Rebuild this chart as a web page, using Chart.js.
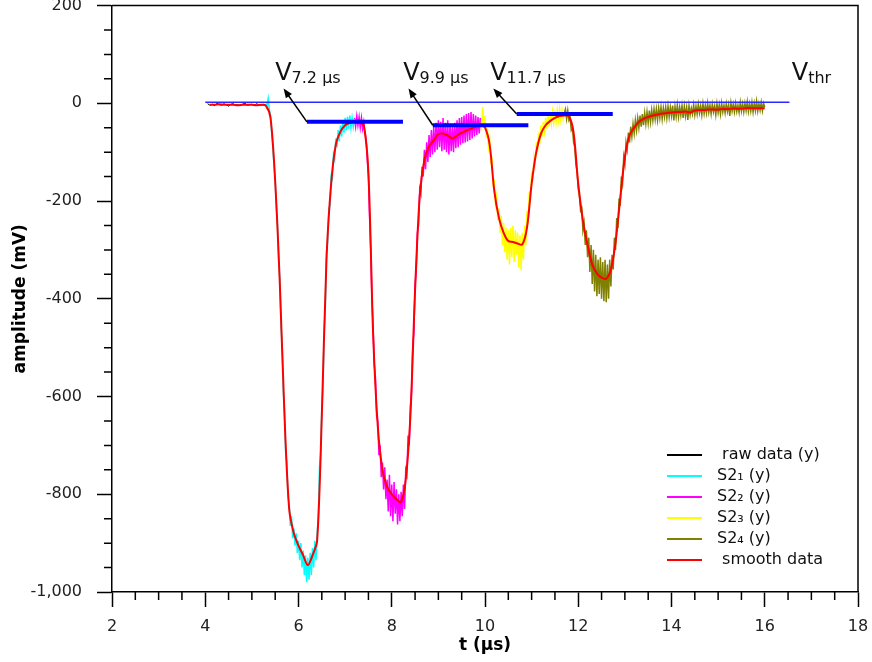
<!DOCTYPE html>
<html>
<head>
<meta charset="utf-8">
<script src="https://cdn.jsdelivr.net/npm/chart.js@4.4.1/dist/chart.umd.min.js"></script>
<style>
  html, body { margin: 0; padding: 0; background: #fff; }
  #wrap { width: 872px; height: 662px; }
</style>
</head>
<body>
<div id="wrap"><canvas id="chart"></canvas></div>
<script>
// sampling step of the S2 traces (µs), 8 samples per row = 0.2 µs
const DT = 0.025;

// raw data (baseline before the first pulse), 0.05 µs step
const RAW_T0 = 4.05;
const RAW_DT = 0.05;
const rawData = [-1, -4, -2, -5, 0, -3, -4, -1, -3, -6, -2, -1, -4, -3, -5, -2, 0, -4, -3, -2, -5, -1, -3, -4, -2, -3];

// S2 pulse 1
const S2_1_T0 = 5.30;
const s2First = [
  -1, -5, 10, -12, -28, -60, -90, -128,
  -155, -215, -250, -325, -360, -455, -495, -590,
  -630, -715, -735, -805, -820, -865, -845, -890,
  -870, -905, -880, -920, -895, -935, -900, -950,
  -915, -965, -925, -980, -930, -975, -920, -965,
  -910, -950, -895, -935, -880, -850, -745, -720,
  -625, -580, -465, -420, -305, -285, -215, -210,
  -150, -155, -105, -115, -72, -90, -55, -78,
  -45, -68, -35, -60, -30, -55, -28, -52,
  -25, -50, -30, -48, -32];

// S2 pulse 2
const S2_2_T0 = 7.20;
const s2Second = [
  -30, -48, -26, -45, -28, -50, -30, -52,
  -38, -60, -75, -115, -150, -235, -300, -400,
  -460, -535, -560, -640, -650, -720, -700, -765,
  -735, -790, -745, -810, -770, -835, -760, -845,
  -780, -855, -775, -840, -790, -862, -800, -855,
  -795, -845, -780, -830, -750, -760, -680, -700,
  -620, -590, -495, -470, -370, -345, -265, -250,
  -175, -185, -130, -150, -95, -135, -80, -120,
  -65, -110, -55, -105, -48, -100, -40, -95,
  -35, -90, -38, -98, -30, -95, -40, -100,
  -35, -105, -42, -98, -45, -100, -40, -92,
  -35, -90, -30, -85, -28, -82, -25, -80,
  -22, -78, -20, -75, -18, -72, -22, -68,
  -25, -65, -28, -62, -30];

// S2 pulse 3
const S2_3_T0 = 9.90;
const s2Third = [
  -30, -55, -8, -50, -25, -70, -50, -90,
  -75, -120, -115, -165, -160, -205, -190, -240,
  -215, -265, -230, -290, -245, -305, -255, -320,
  -260, -330, -255, -315, -250, -325, -260, -310,
  -265, -335, -270, -342, -265, -320, -250, -290,
  -220, -245, -180, -200, -140, -160, -110, -125,
  -80, -100, -60, -82, -45, -68, -38, -58,
  -30, -52, -25, -48, -20, -42, -18, -40,
  -15, -38, -14, -35, -12, -34, -14, -32,
  -18];

// S2 pulse 4 and tail
const S2_4_T0 = 11.70;
const s2Fourth = [
  -20, -12, -32, -15, -35, -30, -55, -50,
  -80, -90, -125, -140, -175, -190, -220, -215,
  -260, -245, -290, -260, -315, -275, -345, -290,
  -370, -300, -385, -310, -395, -320, -390, -315,
  -400, -325, -405, -320, -407, -330, -400, -320,
  -375, -310, -340, -275, -300, -235, -255, -195,
  -210, -150, -165, -110, -125, -80, -95, -60,
  -80, -48, -68, -42, -62, -35, -55, -30,
  -50, -25, -48, -22, -45, -20, -42, -18,
  -40, -15, -38, -14, -35, -12, -33, -12,
  -34, -10, -30, -8, -32, -10, -28, -8,
  -30, -6, -28, -8, -26, -5, -35, -7,
  -27, -4, -28, -8, -25, -5, -30, -6,
  -26, -8, -34, -5, -24, -10, -22, -3,
  -24, -6, -22, -2, -20, -5, -24, -1,
  -21, -4, -20, 0, -19, -4, -22, -2,
  -18, -5, -24, -1, -19, -3, -22, 0,
  -18, -4, -20, -1, -17, -3, -26, 1,
  -16, -2, -18, 0, -17, -4, -19, 2,
  -16, -1, -18, 0, -15, 3, -17, -1,
  -16, 2, -18, 0, -15, 4, -16, -1,
  -14, 2, -15, 0, -8];

// smoothed curve
const SMOOTH_T0 = 4.1;
const SMOOTH_DT = 0.1;
const smoothData = [-3, -3, -2, -3, -3, -3, -4, -3, -3, -3, -4, -3, -5,
  -30, -160, -370, -640, -830, -880, -905, -925, -945, -925, -895, -640, -320, -165, -85, -58, -45, -40, -38, -38, -45,
  -143, -470, -660, -750, -785, -800, -810, -816, -770, -640, -383, -190, -115, -88, -76, -63, -62, -66, -72, -66,
  -60, -56, -52, -48, -44,
  -50, -85, -180, -235, -265, -282, -284, -287, -289, -255, -165, -100, -62, -45, -36, -30, -26, -25, -26, -60,
  -165, -240, -290, -330, -348, -357, -359, -340, -285, -195, -110, -65, -50, -38, -32, -28, -25, -23, -21, -20,
  -19, -18, -18, -17, -19, -15, -14, -14, -13, -13, -13, -12, -12, -11, -11, -11, -10, -10, -10, -10, -10];

// threshold line and integration windows
const vThrLevel = 2;
const vThrRange = [4.0, 16.53];
const windowNames = ['7.2 µs', '9.9 µs', '11.7 µs'];
const windowStart = [6.18, 8.88, 10.68];
const windowEnd = [8.24, 10.93, 12.74];
const windowLevel = [-38, -45, -22];

// label anchors (data units)
const arrowHeadX = [5.68, 8.36, 10.18];
const arrowHeadY = 30;
const labelX = [5.50, 8.245, 10.11];
const labelY = 48;
const vThrLabelX = 16.58;

const toPoints = (t0, dt, arr) => arr.map((v, i) => ({ x: +(t0 + i * dt).toFixed(3), y: v }));

const FONT = "'DejaVu Sans', sans-serif";
Chart.defaults.font.family = FONT;

const datasets = [
  { label: ' raw data (y)', data: toPoints(RAW_T0, RAW_DT, rawData), borderColor: '#000000', borderWidth: 1, order: 5 },
  { label: 'S2₁ (y)', data: toPoints(S2_1_T0, DT, s2First), borderColor: '#00ffff', borderWidth: 1.5, order: 4 },
  { label: 'S2₂ (y)', data: toPoints(S2_2_T0, DT, s2Second), borderColor: '#ff00ff', borderWidth: 1.5, order: 4 },
  { label: 'S2₃ (y)', data: toPoints(S2_3_T0, DT, s2Third), borderColor: '#ffff00', borderWidth: 1.5, order: 4 },
  { label: 'S2₄ (y)', data: toPoints(S2_4_T0, DT, s2Fourth), borderColor: '#808000', borderWidth: 1.5, order: 4 },
  { label: ' smooth data', data: toPoints(SMOOTH_T0, SMOOTH_DT, smoothData), borderColor: '#ff0000', borderWidth: 2, order: 2, tension: 0.3 },
  { label: 'Vthr', inLegend: false, data: [{ x: vThrRange[0], y: vThrLevel }, { x: vThrRange[1], y: vThrLevel }], borderColor: '#2b2bff', borderWidth: 1.5, order: 1 }
];
windowNames.forEach((name, i) => {
  datasets.push({
    label: 'V ' + name, inLegend: false,
    data: [{ x: windowStart[i], y: windowLevel[i] }, { x: windowEnd[i], y: windowLevel[i] }],
    borderColor: '#0000ff', borderWidth: 4, order: 0
  });
});

// arrows, V labels, frame, minor ticks and the legend
const extras = {
  id: 'extras',
  afterDraw(chart) {
    const { ctx, chartArea: a, scales: { x, y } } = chart;
    ctx.save();
    ctx.strokeStyle = '#000';
    ctx.lineWidth = 1.5;

    // top and right frame
    ctx.beginPath();
    ctx.moveTo(a.left, a.top); ctx.lineTo(a.right, a.top); ctx.lineTo(a.right, a.bottom);
    ctx.stroke();

    // minor ticks
    ctx.beginPath();
    for (let v = 2.5; v < 18; v += 0.5) {
      if (v % 2 === 0) continue;
      const px = x.getPixelForValue(v);
      ctx.moveTo(px, a.bottom); ctx.lineTo(px, a.bottom + 8);
    }
    for (let v = -950; v < 200; v += 50) {
      if (v % 200 === 0) continue;
      const py = y.getPixelForValue(v);
      ctx.moveTo(a.left - 8, py); ctx.lineTo(a.left, py);
    }
    ctx.stroke();

    // arrows
    ctx.fillStyle = '#000';
    ctx.lineWidth = 1.5;
    windowStart.forEach((t, i) => {
      const x1 = x.getPixelForValue(t), y1 = y.getPixelForValue(windowLevel[i]);
      const x2 = x.getPixelForValue(arrowHeadX[i]), y2 = y.getPixelForValue(arrowHeadY);
      const ang = Math.atan2(y2 - y1, x2 - x1);
      ctx.beginPath(); ctx.moveTo(x1, y1);
      ctx.lineTo(x2 - 6 * Math.cos(ang), y2 - 6 * Math.sin(ang)); ctx.stroke();
      ctx.beginPath();
      ctx.moveTo(x2, y2);
      ctx.lineTo(x2 - 10 * Math.cos(ang - 0.38), y2 - 10 * Math.sin(ang - 0.38));
      ctx.lineTo(x2 - 10 * Math.cos(ang + 0.38), y2 - 10 * Math.sin(ang + 0.38));
      ctx.closePath(); ctx.fill();
    });

    // V labels
    const drawV = (px, py, sub) => {
      ctx.fillStyle = '#111';
      ctx.textAlign = 'left'; ctx.textBaseline = 'alphabetic';
      ctx.font = '24px ' + FONT;
      ctx.fillText('V', px, py);
      const w = ctx.measureText('V').width;
      ctx.font = '16px ' + FONT;
      ctx.fillText(sub, px + w, py + 3);
    };
    windowNames.forEach((name, i) => drawV(x.getPixelForValue(labelX[i]), y.getPixelForValue(labelY), name));
    drawV(x.getPixelForValue(vThrLabelX), y.getPixelForValue(labelY), 'thr');

    // legend
    const items = chart.data.datasets.filter(d => d.inLegend !== false);
    let ly = a.bottom - 137;
    ctx.font = '16px ' + FONT;
    ctx.textBaseline = 'middle';
    items.forEach(d => {
      ctx.strokeStyle = d.borderColor; ctx.lineWidth = 2;
      ctx.beginPath(); ctx.moveTo(a.right - 191, ly); ctx.lineTo(a.right - 156, ly); ctx.stroke();
      ctx.fillStyle = '#111';
      ctx.fillText(d.label, a.right - 141, ly);
      ly += 21;
    });
    ctx.restore();
  }
};

new Chart(document.getElementById('chart'), {
  type: 'line',
  data: { datasets },
  options: {
    responsive: true,
    maintainAspectRatio: false,
    animation: false,
    elements: { point: { radius: 0 }, line: { tension: 0 } },
    layout: { padding: { top: 5.5, right: 14, left: 0, bottom: 0 } },
    plugins: { legend: { display: false }, tooltip: { enabled: false } },
    scales: {
      x: {
        type: 'linear', min: 2, max: 18,
        border: { display: true, color: '#000', width: 1.5 },
        grid: { drawOnChartArea: false, drawTicks: true, tickLength: 15, tickColor: '#000', tickWidth: 1.5 },
        ticks: { stepSize: 2, font: { size: 16 }, color: '#222', padding: 10, maxRotation: 0 },
        title: { display: true, text: 't (µs)', color: '#000', font: { size: 17, weight: 'bold' }, padding: { top: 0, bottom: 6 } },
        afterFit(scale) { scale.height = 70; scale.paddingLeft = 0; scale.paddingRight = 0; }
      },
      y: {
        min: -1000, max: 200,
        border: { display: true, color: '#000', width: 1.5 },
        grid: { drawOnChartArea: false, drawTicks: true, tickLength: 15, tickColor: '#000', tickWidth: 1.5 },
        ticks: { stepSize: 200, font: { size: 16 }, color: '#222', padding: 15 },
        title: { display: true, text: 'amplitude (mV)', color: '#000', font: { size: 17, weight: 'bold' }, padding: { top: 10, bottom: 0 } },
        afterFit(scale) { scale.width = 112; scale.paddingTop = 0; scale.paddingBottom = 0; }
      }
    }
  },
  plugins: [extras]
});
</script>
</body>
</html>
